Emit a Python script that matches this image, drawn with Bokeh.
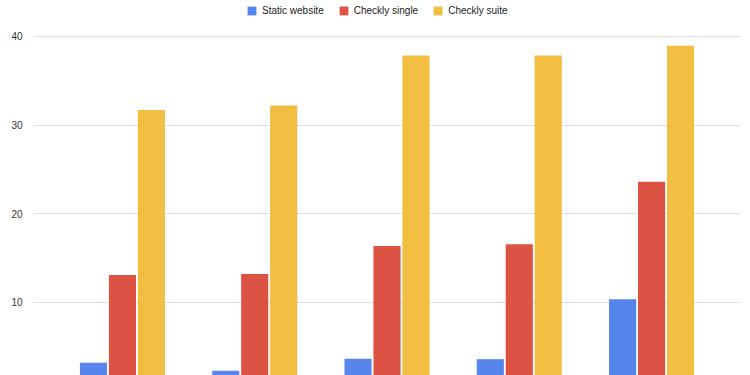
from bokeh.plotting import figure
from bokeh.models import ColumnDataSource, FactorRange, Range1d, FixedTicker, Legend, LegendItem
from bokeh.transform import dodge
from bokeh.embed import file_html
from bokeh.resources import INLINE

categories = ["1", "2", "3", "4", "5"]
static_website = [3.2, 2.3, 3.65, 3.6, 10.35]
checkly_single = [13.1, 13.2, 16.35, 16.55, 23.6]
checkly_suite = [31.7, 32.2, 37.85, 37.85, 38.95]
series_names = ["Static website", "Checkly single", "Checkly suite"]
colors = ["#5685ec", "#dc5243", "#f1be42"]
y_ticks = [10, 20, 30, 40]

source = ColumnDataSource(dict(cat=categories, s=static_website, c1=checkly_single, c2=checkly_suite))

p = figure(width=750, height=375, output_backend="svg", toolbar_location=None,
           x_range=FactorRange(factors=categories, range_padding=0.069, range_padding_units="percent"),
           y_range=Range1d(1.76, 44.04),
           min_border_left=33, min_border_right=10, min_border_top=0, min_border_bottom=0)

renderers = []
for key, off, col in zip(["s", "c1", "c2"], [-0.219, 0.0, 0.219], colors):
    r = p.vbar(x=dodge("cat", off, range=p.x_range), top=key, bottom=0, width=0.205,
               source=source, fill_color=col, line_color=None)
    renderers.append(r)

p.xaxis.visible = False
p.xgrid.grid_line_color = None
p.ygrid.grid_line_color = "#dedede"
p.ygrid.grid_line_width = 1
p.yaxis.ticker = FixedTicker(ticks=y_ticks)
p.yaxis.axis_line_color = None
p.yaxis.major_tick_line_color = None
p.yaxis.minor_tick_line_color = None
p.yaxis.major_label_text_font = "Liberation Sans"
p.yaxis.major_label_text_font_size = "10px"
p.yaxis.major_label_text_color = "#333333"
p.yaxis.major_label_standoff = 5
p.outline_line_color = None

legend = Legend(items=[LegendItem(label=n, renderers=[r]) for n, r in zip(series_names, renderers)],
                orientation="horizontal", location=(213, 359),
                padding=0, margin=0, border_line_color=None, background_fill_alpha=0,
                glyph_width=11, glyph_height=11, label_height=11, label_standoff=5, spacing=14,
                label_text_font="Liberation Sans", label_text_font_size="10px",
                label_text_color="#222222")
p.add_layout(legend, "center")

open("out.html", "w").write(file_html(p, INLINE))
